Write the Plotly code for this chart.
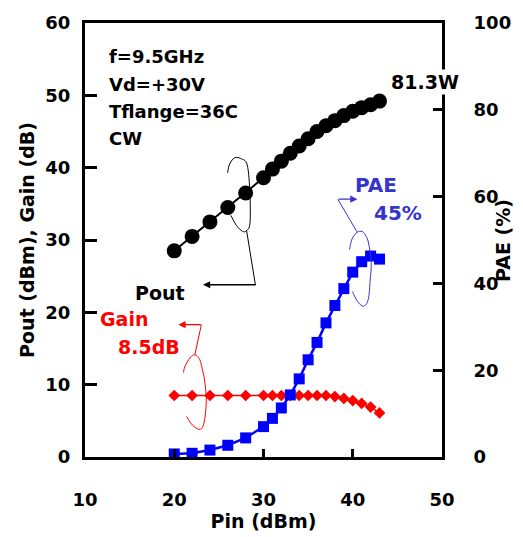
import plotly.graph_objects as go

# ---------------- data ----------------
pin = [20, 22, 24, 26, 28, 30, 31, 32, 33, 34, 35, 36, 37, 38, 39, 40, 41, 42, 43]
pout = [28.5, 30.5, 32.5, 34.5, 36.5, 38.6, 39.8, 40.9, 42.0, 43.0, 44.0, 45.0, 45.8,
        46.5, 47.2, 47.8, 48.3, 48.7, 49.2]
gain = [8.5, 8.5, 8.5, 8.5, 8.5, 8.5, 8.5, 8.5, 8.5, 8.5, 8.5, 8.5, 8.5,
        8.35, 8.1, 7.8, 7.4, 6.9, 6.1]
pae = [0.7, 0.85, 1.6, 2.7, 4.4, 7.0, 8.9, 11.3, 14.3, 18.0, 22.4, 26.4, 30.9,
       34.9, 38.8, 42.6, 45.0, 46.3, 45.6]

x_ticks = [10, 20, 30, 40, 50]
y_ticks = [0, 10, 20, 30, 40, 50, 60]
y2_ticks = [0, 20, 40, 60, 80, 100]

conditions = ["f=9.5GHz", "Vd=+30V", "Tflange=36C", "CW"]

# ---------------- layout geometry (pixels) ----------------
W, H = 523, 537
PL, PR, PT, PB = 85, 448, 14, 460
FONT = "DejaVu Sans"
BLUE_TXT = "#3535cc"


def px(x):
    return (x - PL) / (PR - PL)


def py(y):
    return (PB - y) / (PB - PT)


def smooth(points):
    pts = [(px(x), py(y)) for x, y in points]
    d = f"M {pts[0][0]:.4f},{pts[0][1]:.4f}"
    n = len(pts)
    for i in range(n - 1):
        p0 = pts[i - 1] if i > 0 else pts[i]
        p1 = pts[i]
        p2 = pts[i + 1]
        p3 = pts[i + 2] if i + 2 < n else p2
        c1 = (p1[0] + (p2[0] - p0[0]) / 6, p1[1] + (p2[1] - p0[1]) / 6)
        c2 = (p2[0] - (p3[0] - p1[0]) / 6, p2[1] - (p3[1] - p1[1]) / 6)
        d += f" C {c1[0]:.4f},{c1[1]:.4f} {c2[0]:.4f},{c2[1]:.4f} {p2[0]:.4f},{p2[1]:.4f}"
    return d


fig = go.Figure()
fig.add_trace(go.Scatter(x=pin, y=pout, mode="lines+markers", name="Pout",
                         line=dict(color="black", width=2),
                         marker=dict(symbol="circle", size=15, color="black")))
fig.add_trace(go.Scatter(x=pin, y=gain, mode="lines+markers", name="Gain",
                         line=dict(color="#ff0000", width=1.5),
                         marker=dict(symbol="diamond", size=9, color="#ff0000")))
fig.add_trace(go.Scatter(x=pin, y=pae, mode="lines+markers", name="PAE", yaxis="y2",
                         line=dict(color="#0000ff", width=2.5),
                         marker=dict(symbol="square", size=11, color="#0000ff")))

shapes = []
# Pout loop + leader
shapes.append(dict(type="path", xref="paper", yref="paper", line=dict(color="black", width=1),
                   path=smooth([(230, 168), (231.7, 160), (236.7, 152.7), (243.3, 153.3), (250, 160),
                                (252.7, 190), (252.7, 220), (249, 227.5), (245, 228), (239, 222),
                                (233.3, 211.7)])))
shapes.append(dict(type="line", xref="paper", yref="paper", line=dict(color="black", width=1),
                   x0=px(249.3), y0=py(227.3), x1=px(258.3), y1=py(283.3)))
# Gain loop + leader
shapes.append(dict(type="path", xref="paper", yref="paper", line=dict(color="#ff0000", width=1),
                   path=smooth([(185, 373.3), (186.7, 366.7), (191.7, 358.3), (196.7, 355), (201.7, 360),
                                (204.3, 370), (206.7, 382), (208.3, 403), (206, 425), (201.7, 431.7),
                                (194, 427), (188.3, 418.3)])))
shapes.append(dict(type="line", xref="paper", yref="paper", line=dict(color="#ff0000", width=1),
                   x0=px(203.3), y0=py(324), x1=px(196.7), y1=py(355)))
# PAE loop + leader
shapes.append(dict(type="path", xref="paper", yref="paper", line=dict(color=BLUE_TXT, width=1),
                   path=smooth([(354, 246.7), (356.5, 236), (361.7, 229), (366.7, 228.3), (370, 231.7),
                                (373.3, 240), (376, 260), (375, 278), (373, 298), (368.3, 305),
                                (362, 300), (357, 290)])))
shapes.append(dict(type="line", xref="paper", yref="paper", line=dict(color=BLUE_TXT, width=1),
                   x0=px(342), y0=py(195), x1=px(361.5), y1=py(228.5)))

annotations = []


def text(t, x, y, color="black", size=18, xanchor="left", angle=0, bg=None):
    a = dict(text=t, x=px(x), y=py(y), xref="paper", yref="paper",
             xanchor=xanchor, yanchor="middle", showarrow=False, textangle=angle,
             font=dict(family=FONT, size=size, color=color, weight="bold"))
    if bg:
        a["bgcolor"] = bg
    annotations.append(a)


def arrow(x, y, ax, color):
    annotations.append(dict(text="", x=px(x), y=py(y), xref="paper", yref="paper",
                            ax=ax, ay=0, showarrow=True, arrowhead=2, arrowsize=1.1,
                            arrowwidth=1.3, arrowcolor=color, standoff=0))


cond_y = [48, 77, 105, 133]
for t, yy in zip(conditions, cond_y):
    text(t, 107, yy)
text("81.3W", 394, 75, size=19, bg="white")
text("PAE", 358, 180, BLUE_TXT, 20)
text("45%", 377, 209, BLUE_TXT, 20)
text("Pout", 134, 291, size=19)
text("Gain", 98, 318, "#ff0000", 19)
text("8.5dB", 117, 347, "#ff0000", 19)
# right axis title
text("PAE (%)", 510, (PT + PB) / 2, size=19, xanchor="center", angle=-90)

arrow(205, 283, 54, "black")
arrow(180, 324, 24, "#ff0000")
arrow(362, 195, -20, BLUE_TXT)

axis_common = dict(showline=True, linewidth=3, linecolor="black", ticks="inside",
                   tickwidth=3, tickcolor="black", showgrid=False, zeroline=False,
                   tickfont=dict(family=FONT, size=18, color="black", weight="bold"))

fig.update_layout(
    width=W, height=H,
    margin=dict(l=PL, r=W - PR, t=PT, b=H - PB),
    paper_bgcolor="white", plot_bgcolor="white",
    showlegend=False,
    shapes=shapes, annotations=annotations,
    xaxis=dict(range=[10, 50], tickvals=x_ticks, ticklen=8, mirror=True,
               ticklabelstandoff=24,
               title=dict(text="Pin (dBm)", standoff=2,
                          font=dict(family=FONT, size=19, color="black", weight="bold")),
               **axis_common),
    yaxis=dict(range=[0, 60], tickvals=y_ticks, ticklen=12, ticklabelstandoff=8,
               title=dict(text="Pout (dBm), Gain (dB)", standoff=6,
                          font=dict(family=FONT, size=19, color="black", weight="bold")),
               **axis_common),
    yaxis2=dict(range=[0, 100], tickvals=y2_ticks, ticklen=9, overlaying="y", side="right",
                ticklabelstandoff=25,
                **axis_common),
)

fig.write_html("out.html")
